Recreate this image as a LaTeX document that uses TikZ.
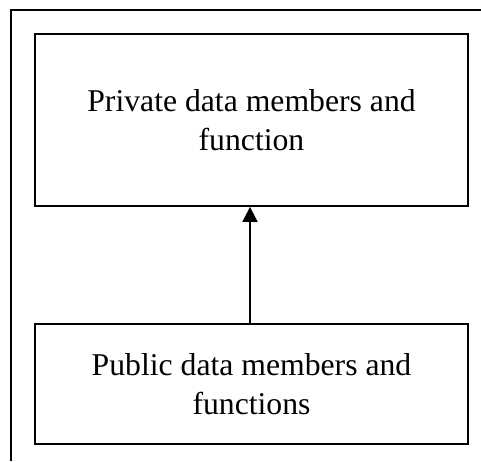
\documentclass[tikz,border=0pt]{standalone}
\usepackage{fontspec}
\setmainfont{Liberation Serif}
\usetikzlibrary{positioning,arrows.meta}

\begin{document}
\begin{tikzpicture}[x=1pt, y=-1pt, line width=1.8pt,
    layer/.style={draw, rectangle, align=center, minimum width=433pt,
      font=\fontsize{31.7}{39}\selectfont}]
          \useasboundingbox (0,0) rectangle (481,461);
          \draw (481,10) -| (11,461);
          \node[layer, minimum height=172pt](private) at (251.5,120){Private data members and\\function};
          \node[layer, minimum height=120pt, below =116pt of private](public){Public data members and\\functions};
          \path[-{Triangle[length=15pt,width=15pt]}](public.north -| 250,0) edge (private.south -| 250,0);
        \end{tikzpicture}
\end{document}
